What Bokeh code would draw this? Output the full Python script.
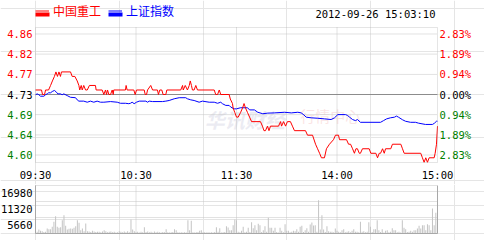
from bokeh.plotting import figure
from bokeh.models import Range1d, Label, Legend, LegendItem, BoxAnnotation
from bokeh.layouts import column
from bokeh.embed import file_html
from bokeh.resources import INLINE

prev_close = 4.73
stock_name = "中国重工"
index_name = "上证指数"
stamp = "2012-09-26 15:03:10"

# minutes since 09:30 (lunch break removed), price of 中国重工
price_minute = [0, 3.6, 4.2, 5.4, 6, 7.8, 9, 10.1, 11.3, 12.2,
                13.1, 14, 14.9, 15.5, 20.9, 21.9, 23.5, 24.9, 25.9, 26.4,
                27.3, 27.9, 28.8, 29.9, 30.9, 32.2, 35.8, 36.2, 39.8, 40.8,
                41.8, 42.4, 43, 43.8, 44.8, 45.8, 46.4, 46.7, 53.7, 54.1,
                54.7, 58.7, 59.5, 60.3, 64.9, 65.5, 66.3, 66.9, 68.8, 69.9,
                72.8, 73.4, 74.2, 75.4, 76.2, 77.8, 78.4, 86.7, 87.8, 88.2,
                89.4, 90.7, 91.8, 92.4, 93.1, 93.7, 94.7, 95.7, 96.7, 106.7,
                107.6, 108.7, 109.7, 110.6, 115.6, 116.3, 117.6, 118, 119, 120,
                121, 122.4, 123.6, 124.5, 125.4, 126.6, 127.8, 129, 134.3, 135.5,
                136.4, 137.3, 138.5, 139.4, 140.3, 145.1, 146.3, 146.9, 148.1, 149.3,
                150.4, 152.2, 153.4, 154.6, 161.2, 162.4, 165.4, 167.2, 168.4, 169.6,
                170.7, 172.5, 173.7, 175.5, 177.9, 179.1, 180.9, 181.5, 185.7, 186.9,
                188.1, 189.3, 190.4, 191.3, 192.2, 193.3, 194, 195.2, 199.2, 200.2,
                203.2, 204.2, 205.2, 206, 207.2, 208.2, 209, 212.1, 213.1, 218.1,
                219.1, 220.1, 230, 231, 232, 233, 234, 235, 238, 238.6,
                239.4, 240]
price_value = [4.74, 4.74, 4.73, 4.73, 4.74, 4.74, 4.75, 4.76, 4.77, 4.78,
               4.77, 4.78, 4.77, 4.78, 4.78, 4.77, 4.77, 4.76, 4.75, 4.74,
               4.75, 4.74, 4.75, 4.74, 4.74, 4.75, 4.75, 4.74, 4.74, 4.73,
               4.74, 4.73, 4.74, 4.73, 4.73, 4.74, 4.73, 4.74, 4.74, 4.75,
               4.74, 4.74, 4.73, 4.74, 4.74, 4.73, 4.73, 4.74, 4.75, 4.74,
               4.74, 4.73, 4.74, 4.74, 4.73, 4.73, 4.74, 4.74, 4.75, 4.74,
               4.75, 4.74, 4.75, 4.76, 4.75, 4.74, 4.74, 4.75, 4.74, 4.74,
               4.73, 4.73, 4.74, 4.73, 4.73, 4.72, 4.71, 4.70, 4.69, 4.68,
               4.68, 4.69, 4.70, 4.71, 4.70, 4.69, 4.68, 4.67, 4.67, 4.66,
               4.65, 4.65, 4.66, 4.65, 4.66, 4.66, 4.67, 4.66, 4.67, 4.66,
               4.67, 4.67, 4.66, 4.65, 4.65, 4.64, 4.64, 4.62, 4.61, 4.60,
               4.59, 4.59, 4.61, 4.62, 4.63, 4.64, 4.64, 4.63, 4.63, 4.62,
               4.62, 4.61, 4.60, 4.61, 4.61, 4.60, 4.60, 4.61, 4.61, 4.60,
               4.60, 4.59, 4.60, 4.60, 4.61, 4.60, 4.61, 4.61, 4.62, 4.62,
               4.61, 4.60, 4.60, 4.59, 4.58, 4.59, 4.58, 4.59, 4.59, 4.60,
               4.62, 4.66]

# 上证指数, change in percent
index_minute = [0, 1, 2, 3, 5, 6, 7, 7.8, 9, 10,
                11.3, 12.5, 13.3, 14.9, 15.9, 16.9, 18.9, 20.9, 23.9, 24.9,
                25.9, 28.8, 30.9, 32.8, 34.8, 36.8, 38.8, 40.8, 44.8, 48.8,
                50.7, 53.7, 55.7, 56.7, 57.7, 58.9, 60.3, 61.9, 65.9, 66.9,
                67.9, 69.9, 75.8, 77.8, 79.8, 82.8, 85.8, 89.7, 90.7, 92.7,
                94.7, 97.7, 99.7, 103.7, 106.7, 108.7, 110.6, 111.6, 113.6, 115.6,
                116.6, 118.6, 120, 122.4, 126.6, 127.8, 130.7, 132.7, 135.7, 138.7,
                142.7, 148.7, 152.7, 156.6, 158.6, 160.2, 161.6, 164.6, 168.5, 172.5,
                176.5, 178.5, 180.5, 185.1, 186.3, 187.5, 189.3, 191, 192.2, 194,
                206, 207.8, 209.6, 211.9, 214.3, 215.5, 216.7, 219.1, 220.9, 223.9,
                226.9, 228.7, 232.8, 237, 238.2, 239.4, 240]
index_pct = [-0.01, 0.03, -0.01, -0.08, -0.08, -0.01, 0.03, 0.08, 0.08, 0.14,
             0.19, 0.11, 0.03, 0.03, -0.01, 0.03, -0.05, -0.13, -0.15, -0.25,
             -0.31, -0.31, -0.36, -0.31, -0.36, -0.31, -0.36, -0.36, -0.33, -0.36,
             -0.41, -0.41, -0.43, -0.41, -0.36, -0.43, -0.36, -0.31, -0.31, -0.36,
             -0.31, -0.33, -0.33, -0.31, -0.28, -0.20, -0.15, -0.15, -0.20, -0.25,
             -0.28, -0.36, -0.31, -0.36, -0.36, -0.41, -0.36, -0.43, -0.51, -0.51,
             -0.59, -0.67, -0.67, -0.62, -0.62, -0.72, -0.72, -0.83, -0.90, -0.87,
             -0.86, -0.83, -0.86, -0.83, -0.86, -0.95, -1.06, -1.09, -1.11, -1.14,
             -1.17, -1.09, -0.94, -0.94, -0.98, -1.06, -1.17, -1.22, -1.17, -1.30,
             -1.30, -1.22, -1.14, -1.09, -1.06, -1.01, -1.06, -1.18, -1.25, -1.30,
             -1.30, -1.34, -1.40, -1.40, -1.34, -1.25, -1.25]

# volume per minute (minute 0 .. 240)
volume = [950, 600, 1420, 950, 810, 500, 600, 1770, 1520, 1520,
          2370, 4140, 6120, 2370, 2020, 2230, 4700, 6470, 2720, 1420,
          1660, 1770, 1660, 2020, 2580, 4700, 3790, 1170, 1770, 810,
          3540, 810, 710, 500, 950, 710, 500, 600, 600, 400,
          710, 1170, 810, 400, 600, 710, 400, 600, 350, 400,
          810, 600, 400, 710, 400, 810, 400, 4950, 1420, 810,
          400, 600, 350, 600, 400, 2230, 500, 710, 400, 600,
          350, 710, 400, 600, 400, 354, 500, 400, 1520, 400,
          354, 400, 500, 1520, 1170, 400, 350, 400, 354, 400,
          350, 4700, 1170, 4490, 400, 350, 400, 500, 950, 1170,
          400, 460, 350, 460, 350, 400, 350, 500, 2230, 600,
          1870, 354, 400, 500, 2580, 2120, 1170, 1170, 2940, 4950,
          4700, 600, 400, 950, 2370, 460, 600, 2020, 500, 4000,
          1870, 2940, 1170, 3430, 2940, 500, 1170, 2580, 600, 5550,
          2020, 2020, 950, 2020, 500, 354, 2020, 950, 400, 3290,
          950, 950, 400, 600, 950, 810, 1520, 600, 2370, 2720,
          500, 1170, 1870, 600, 3180, 3890, 2830, 2940, 600, 11780,
          1420, 6470, 1420, 500, 2580, 810, 600, 600, 400, 1770,
          950, 600, 400, 1170, 1520, 400, 600, 810, 400, 950,
          1520, 600, 600, 400, 4140, 600, 810, 400, 600, 4000,
          2370, 500, 1520, 1520, 4700, 1170, 500, 1520, 354, 950,
          1170, 400, 600, 1870, 1170, 1170, 400, 600, 354, 4700,
          2020, 1520, 500, 600, 950, 600, 1170, 1170, 1770, 2720,
          1770, 2940, 2940, 1170, 3290, 2940, 1170, 8840, 2940, 7320,
          6000]
volume_minute = list(range(len(volume)))

time_ticks = [0, 60, 120, 180, 240]
time_labels = ["09:30", "10:30", "11:30", "14:00", "15:00"]
vgrid_ticks = [60, 120, 180]
pct_ticks = [2.83, 1.89, 0.94, 0.0, -0.94, -1.89, -2.83]
pct_labels = ["2.83%", "1.89%", "0.94%", "0.00%", "0.94%", "1.89%", "2.83%"]
price_labels = ["4.86", "4.82", "4.77", "4.73", "4.69", "4.64", "4.60"]
label_colors = ["#ff0000", "#ff0000", "#ff0000", "#000000", "#008000", "#008000", "#008000"]
vol_ticks = [16980, 11320, 5660]
vol_max = 16980
pct_lo, pct_hi = -3.18, 3.134

MONO = "DejaVu Sans Mono"
FS = "10.5px"
GRID = "#c4c4c4"
BORDER = "#a8a8a8"
RED = "#ff0000"
BLUE = "#0000ff"

# pixel layout (the whole canvas is the frame; the chart box sits inside it)
W = 484
BOX_L, BOX_R = 35, 47              # space left / right of chart box
TOP_H, BOX_T, BOX_B = 184, 27, 22  # main panel height, space above / below box
VOL_H, VOL_T, VOL_B = 56, 1, 7     # volume panel
px_min = (W - BOX_L - BOX_R) / 240.0
px_pct = (TOP_H - BOX_T - BOX_B) / (pct_hi - pct_lo)
px_vol = (VOL_H - VOL_T - VOL_B) / vol_max

x_range = Range1d(-BOX_L / px_min, 240 + BOX_R / px_min)
y_lo = pct_lo - BOX_B / px_pct
y_hi = pct_hi + BOX_T / px_pct

p1 = figure(width=W, height=TOP_H, x_range=x_range, y_range=Range1d(y_lo, y_hi),
            output_backend="svg", toolbar_location=None,
            x_axis_location=None, y_axis_location=None,
            min_border=0, outline_line_color=None,
            background_fill_color="white", border_fill_color="white")
p1.extra_y_ranges = {"price": Range1d(prev_close * (1 + y_lo / 100), prev_close * (1 + y_hi / 100))}

# grid lines inside the chart box
hticks = [t for t in pct_ticks if t != 0]
p1.segment(x0=[0] * len(hticks), x1=[240] * len(hticks), y0=hticks, y1=hticks,
           line_color=GRID, line_width=1, line_dash="1 1")
p1.segment(x0=vgrid_ticks, x1=vgrid_ticks, y0=[pct_lo] * 3, y1=[pct_hi] * 3,
           line_color=GRID, line_width=1, line_dash="1 1")
p1.segment(x0=[0], x1=[240], y0=[0], y1=[0], line_color="#8c8c8c", line_width=1)

# faint watermark
p1.add_layout(Label(x=101, y=-1.19, text="华讯财经", text_font="Noto Sans CJK SC",
                    text_font_size="20px", text_font_style="bold italic", text_color="#d8d8e6",
                    text_alpha=0.5, text_baseline="middle", level="underlay"))
p1.add_layout(Label(x=158, y=-1.0, text="行情中心", text_font="Noto Sans CJK SC",
                    text_font_size="15px", text_color="#f6caca", text_alpha=0.5,
                    text_baseline="middle", level="underlay"))

r_index = p1.line(index_minute, index_pct, line_color=BLUE, line_width=1)
r_price = p1.line(price_minute, price_value, y_range_name="price", line_color=RED, line_width=1)

p1.add_layout(BoxAnnotation(left=0, right=240, bottom=pct_lo, top=pct_hi, fill_alpha=0,
                            line_color=BORDER, line_width=1))

# legend (two, because the label colours differ) with solid colour keys
leg_bottom = TOP_H - 19
for rend, name, col, left_px in [(r_price, stock_name, RED, 35), (r_index, index_name, BLUE, 108)]:
    leg = Legend(items=[LegendItem(label=name, renderers=[rend])], location=(left_px, leg_bottom),
                 orientation="horizontal", glyph_width=14, glyph_height=5,
                 label_standoff=4, label_height=12, label_text_font="Noto Sans CJK SC",
                 label_text_font_size="12px", label_text_color=col, padding=0, margin=0,
                 spacing=0, border_line_color=None, background_fill_alpha=0)
    p1.add_layout(leg, "center")
    x0 = (left_px - BOX_L) / px_min
    p1.add_layout(BoxAnnotation(left=x0, right=x0 + 14 / px_min,
                                top=y_hi - 12 / px_pct, bottom=y_hi - 16 / px_pct,
                                fill_color=col, fill_alpha=1, line_color=None, level="overlay"))

for t, lab, c in zip(pct_ticks, price_labels, label_colors):
    p1.add_layout(Label(x=0, y=t, x_offset=-3, text=lab, text_align="right",
                        text_baseline="middle", text_color=c, text_font=MONO, text_font_size=FS))
for t, lab, c in zip(pct_ticks, pct_labels, label_colors):
    p1.add_layout(Label(x=240, y=t, x_offset=2, text=lab, text_align="left",
                        text_baseline="middle", text_color=c, text_font=MONO, text_font_size=FS))
for t, lab in zip(time_ticks, time_labels):
    p1.add_layout(Label(x=t, y=pct_lo, y_offset=-12, text=lab, text_align="center",
                        text_baseline="middle", text_color="#000000", text_font=MONO,
                        text_font_size=FS))
p1.add_layout(Label(x=240, y=pct_hi, x_offset=-2, y_offset=14, text=stamp, text_align="right",
                    text_baseline="middle", text_color="#000000", text_font=MONO, text_font_size=FS))

# volume panel
p2 = figure(width=W, height=VOL_H, x_range=x_range,
            y_range=Range1d(-VOL_B / px_vol, vol_max + VOL_T / px_vol),
            output_backend="svg", toolbar_location=None,
            x_axis_location=None, y_axis_location=None,
            min_border=0, outline_line_color=None,
            background_fill_color="white", border_fill_color="white")
p2.segment(x0=[0] * 3, x1=[240] * 3, y0=vol_ticks, y1=vol_ticks,
           line_color=GRID, line_width=1, line_dash="1 1")
p2.segment(x0=vgrid_ticks, x1=vgrid_ticks, y0=[0] * 3, y1=[vol_max] * 3,
           line_color=GRID, line_width=1, line_dash="1 1")
p2.vbar(x=volume_minute, top=volume, width=0.6, bottom=0, fill_color="#c4c4c4", line_color=None)
p2.segment(x0=[0, 240, 0], x1=[0, 240, 240], y0=[0, 0, 0], y1=[vol_max, vol_max, 0],
           line_color=BORDER, line_width=1)
for v in vol_ticks:
    p2.add_layout(Label(x=0, y=v, x_offset=-3, y_offset=-7, text=str(v), text_align="right",
                        text_baseline="middle", text_color="#000000", text_font=MONO,
                        text_font_size=FS))

layout = column(p1, p2, spacing=0)
open("out.html", "w").write(file_html(layout, INLINE))
